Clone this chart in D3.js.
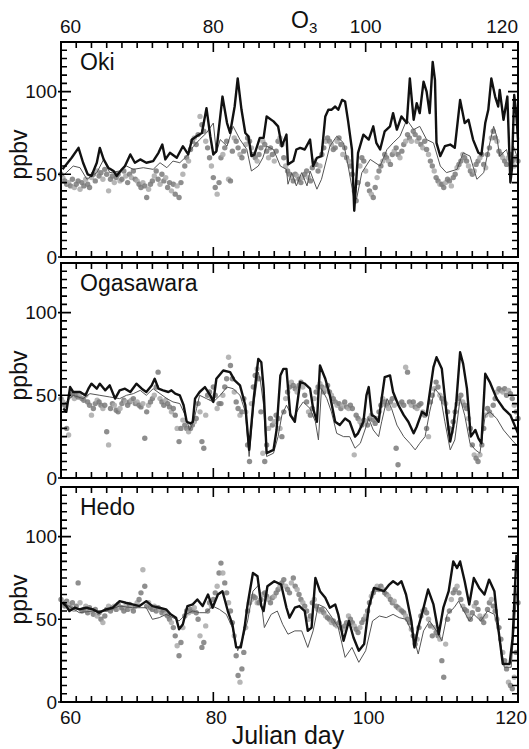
<!DOCTYPE html>
<html>
<head>
<meta charset="utf-8">
<script src="https://cdn.jsdelivr.net/npm/d3@7"></script>
<style>
  body { margin: 0; background: #fff; }
  text { fill: #111; }
</style>
</head>
<body>
<div id="chart"></div>
<script>
// ---- data ----
const stations = ["Oki", "Ogasawara", "Hedo"];
const xLabels = [60, 80, 100, 120];
const yLabels = [0, 50, 100];

// thick black line: [julian day, ppbv]
const okiThick = [[60.2,53],[60.7,56],[61.4,60],[62.3,66],[62.9,57],[63.5,50],[64,49],[64.7,57],[65.1,66],[65.6,59],[66.2,54],[66.9,52],[67.3,49],[68,53],[68.4,55],[69.1,62],[69.7,57],[70.4,59],[71.2,57],[72.1,58],[72.8,63],[73.3,68],[73.7,59],[74.3,63],[75.2,60],[76,67],[76.7,62],[77.2,71],[77.8,73],[78.5,75],[79.1,90],[79.6,73],[80,62],[80.4,64],[81.2,97],[81.8,81],[82.2,75],[82.8,91],[83.2,108],[83.7,89],[84.2,75],[84.6,73],[85,61],[85.4,62],[86.1,72],[86.6,72],[87,85],[87.9,82],[88.5,79],[89,67],[89.6,74],[89.8,56],[90.5,58],[90.9,65],[91.4,66],[92,65],[92.7,71],[93.1,55],[93.6,60],[94.2,61],[94.7,85],[95.1,89],[95.5,89],[96,91],[96.4,89],[96.9,95],[97.3,94],[97.7,82],[98.2,65],[98.5,28],[99,63],[99.7,74],[100.4,71],[101,79],[101.4,69],[101.9,65],[102.5,76],[103.2,79],[103.6,87],[104.1,77],[104.7,85],[105.4,81],[105.8,108],[106.3,83],[106.7,93],[107.1,87],[107.6,106],[108,100],[108.4,87],[108.8,118],[109.1,107],[109.3,69],[109.8,61],[110.4,67],[111.1,68],[111.7,66],[112.4,95],[113,81],[113.5,83],[114.1,71],[114.8,63],[115.2,62],[115.7,81],[116.1,89],[116.5,108],[117,97],[117.4,91],[117.6,101],[118.1,83],[118.6,97],[119,45],[119.2,53],[119.5,98],[119.8,85],[120,71]];
const ogaThick = [[60.3,42],[60.7,40],[61.2,55],[61.6,52],[62.5,52],[63.2,50],[63.6,54],[64,57],[64.7,54],[65.1,57],[65.8,53],[66.4,56],[67.1,48],[67.7,53],[68.4,54],[69.1,52],[69.9,57],[70.6,54],[71.2,52],[71.9,56],[72.3,60],[72.8,54],[73.4,53],[74.1,52],[74.5,53],[75,51],[75.6,50],[76.1,44],[76.5,34],[77,33],[77.3,34],[77.6,48],[78.2,52],[78.9,55],[79.6,50],[80,46],[80.4,60],[81.3,65],[82.2,64],[82.8,59],[83.5,56],[84.2,44],[84.7,17],[85.3,48],[85.9,72],[86.3,70],[86.6,54],[87,15],[87.9,17],[88.3,29],[88.8,62],[89.2,66],[89.6,66],[90.1,38],[90.7,34],[91.4,58],[92,57],[92.7,54],[93.1,42],[93.6,34],[94,68],[94.7,60],[95.3,50],[96,34],[96.6,32],[97.3,36],[97.9,34],[98.6,25],[99,27],[99.7,34],[100.1,50],[100.4,55],[100.8,38],[101.2,37],[101.7,34],[102.1,48],[102.5,61],[103.2,62],[103.6,52],[104.3,44],[105,38],[105.6,34],[106.3,27],[106.7,31],[107.4,40],[108,38],[108.4,51],[108.9,67],[109.3,73],[110,66],[110.6,40],[111.1,22],[111.5,31],[111.9,46],[112.4,76],[112.8,69],[113.3,54],[113.8,25],[114.4,29],[114.8,24],[115.2,21],[115.7,63],[116.3,58],[117.2,48],[118.1,42],[119,38],[120,27]];
const hedoThick = [[60.2,60],[60.7,58],[61.1,55],[61.8,57],[62.4,56],[63.3,57],[64.2,56],[65,54],[65.9,56],[66.8,57],[67.7,61],[68.5,60],[69.4,59],[70.3,58],[71.2,61],[72,58],[72.9,57],[73.8,56],[74.4,53],[75.1,51],[75.5,44],[76,47],[76.6,58],[77.3,59],[77.9,62],[78.6,58],[79.3,65],[79.9,57],[80.6,65],[81.2,67],[81.9,55],[82.5,47],[83,33],[83.6,33],[84.1,45],[84.5,59],[85.2,78],[85.8,76],[86.3,58],[86.6,55],[87.1,70],[88,73],[88.9,71],[89.6,57],[90,51],[90.7,57],[91.3,58],[92,55],[92.4,43],[92.9,45],[93.4,75],[94,67],[94.7,63],[95.3,57],[96,59],[96.4,53],[97.1,37],[97.8,49],[98.4,39],[99.1,31],[99.8,35],[100.4,57],[101.1,69],[101.8,68],[102.4,67],[103.1,71],[103.6,73],[104.2,71],[104.7,73],[105.3,65],[106,49],[106.4,33],[106.9,45],[107.6,57],[108.2,68],[108.9,59],[109.6,41],[110.2,57],[110.9,67],[111.5,85],[112,81],[112.4,85],[113,73],[113.6,59],[114.2,75],[114.9,69],[115.6,65],[116.2,74],[116.9,67],[117.4,45],[118,23],[118.9,23],[119.3,39],[119.8,89]];

// thin grey line: [julian day, ppbv]
const okiThin = [[60.2,49],[60.7,51],[61.6,55],[62.5,54],[63.4,47],[64.7,51],[65.6,59],[66.4,51],[67.7,52],[68.6,55],[69.5,53],[70.8,54],[72.1,53],[73,57],[73.9,54],[74.7,58],[75.6,57],[76.5,61],[77.4,67],[78.2,71],[79.1,75],[80,81],[80.4,63],[80.9,71],[81.8,67],[82.6,79],[83.5,71],[84.4,65],[85,52],[85.9,55],[86.5,60],[87,67],[87.9,65],[88.8,55],[89.6,53],[89.8,44],[90.3,51],[90.9,43],[91.6,51],[92.3,43],[92.7,52],[93.6,41],[94.2,47],[95.3,67],[96.2,73],[97.1,69],[97.7,55],[98.4,37],[98.8,35],[99.5,51],[100.6,59],[101.9,55],[102.8,65],[103.6,69],[104.5,73],[105.4,83],[106.3,77],[107.1,79],[108,71],[108.9,69],[109.8,55],[110.6,51],[112,53],[112.8,63],[113.7,61],[114.6,47],[115.5,51],[116.3,69],[116.8,79],[117.2,73],[117.6,61],[118.5,65],[119,55],[119.4,67],[120,59]];
const ogaThin = [[60.3,44],[60.7,46],[61.6,50],[62.9,48],[63.8,51],[65.1,50],[66.4,49],[67.7,48],[68.6,50],[69.5,51],[70.4,53],[71.2,50],[72.1,54],[73,51],[73.9,48],[74.7,46],[75.6,45],[76.3,38],[76.9,29],[77.4,34],[77.8,42],[78.2,50],[79.1,48],[80,46],[80.9,50],[81.8,55],[82.6,54],[83.5,50],[84.2,40],[84.7,13],[85.3,44],[85.9,64],[86.2,58],[86.6,44],[87,13],[87.9,15],[88.5,25],[89,38],[89.6,44],[90.5,36],[91.2,42],[91.8,46],[92.7,42],[93.4,34],[93.8,23],[94.2,54],[94.9,48],[95.5,40],[96.2,27],[97.1,25],[97.9,25],[98.6,18],[99.3,21],[99.9,29],[100.4,36],[101,29],[101.7,25],[102.1,34],[102.8,48],[103.4,42],[104.1,32],[105,25],[105.8,21],[106.5,17],[107.1,21],[107.8,25],[108.4,40],[109.1,54],[109.8,50],[110.4,34],[111.1,17],[111.7,23],[112.4,48],[113,38],[113.7,21],[114.4,17],[115,15],[115.7,38],[116.3,40],[117.2,36],[118.1,29],[119.2,23],[120,19]];
const hedoThin = [[60.2,61],[60.7,59],[62.4,54],[64.2,55],[65.9,55],[67.7,58],[69.4,57],[71.2,57],[72,50],[72.9,51],[73.8,53],[74.7,51],[75.5,49],[76.4,53],[77.3,55],[78.2,54],[79,54],[79.9,58],[80.8,56],[81.7,53],[82.5,45],[83.2,31],[83.9,39],[84.5,49],[85.2,67],[86,71],[86.7,45],[87.6,53],[88.4,55],[89.1,47],[89.8,41],[90.7,43],[91.6,43],[92.4,33],[93.1,43],[93.8,59],[94.7,57],[95.6,51],[96.4,45],[97.3,27],[98.2,33],[99.1,24],[100,31],[100.9,49],[101.8,52],[102.7,51],[103.6,53],[104.4,51],[105.3,50],[106.2,41],[106.9,29],[107.6,43],[108.4,49],[109.3,43],[110,37],[110.7,53],[111.6,57],[112.2,61],[112.9,55],[113.6,49],[114.2,53],[115.1,49],[116,55],[116.9,53],[117.6,39],[118.2,21],[119.1,21],[120,77]];

// observed values (dots), every 0.25 day from day 60
const dotStep = 0.25;
const okiDots = [
  50,48,46,44, 45,43,47,42, 44,46,41,45, 43,47,44,42, 48,50,46,52, 49,51,47,53,
  50,40,47,49, 45,48,50,46, 47,52,49,45, 50,48,52,47, 46,44,42,45, 43,36,41,44,
  46,49,52,47, 44,50,46,48, 42,45,40,44, 38,43,36,45, 50,55,60,58, 65,70,72,68,
  74,85,80,76, 70,66,60,55, 48,42,38,45, 60,62,66,70, 47,46,64,72, 70,66,62,60,
  64,68,72,70, 66,62,60,58, 62,66,70,68, 64,60,66,62, 58,64,70,72, 68,60,55,52,
  50,48,46,50, 49,47,45,48, 50,52,48,46, 54,58,56,52, 55,62,66,70, 72,70,68,65,
  66,70,72,68, 62,66,60,58, 55,50,40,34, 45,55,60,58, 52,44,40,38, 36,42,48,52,
  55,58,62,60, 58,56,62,64, 66,62,60,64, 68,70,74,72, 70,76,74,70, 72,68,66,70,
  65,62,58,55, 52,48,46,44, 44,42,45,47, 46,43,48,50, 54,56,58,62, 60,58,55,52,
  50,52,56,58, 60,62,56,54, 62,66,72,76, 72,70,64,62, 60,58,56,60, 62,58,55,60,
  58];
const ogaDots = [
  48,46,44,30, 26,50,51,48, 50,49,51,48, 47,50,46,44, 38,42,45,47, 46,44,42,44,
  28,20,42,45, 44,41,40,42, 45,47,46,44, 46,47,48,45, 46,44,43,45, 24,40,44,46,
  48,50,55,64, 48,46,44,47, 45,43,40,42, 38,30,22,30, 35,32,30,28, 30,32,34,36,
  45,40,22,18, 38,50,52,48, 55,50,42,45, 45,50,55,60, 73,68,60,52, 46,42,38,40,
  48,40,20,10, 45,55,62,66, 60,40,15,10, 20,30,36,32, 34,38,36,30, 25,40,48,52,
  55,58,56,54, 52,56,58,55, 50,46,40,38, 42,48,52,55, 57,55,52,54, 56,52,50,48,
  46,44,45,42, 44,46,43,42, 44,42,14,38, 36,34,32,35, 34,32,36,38, 35,33,36,40,
  44,48,46,44, 42,46,48,44, 18,8,45,46, 44,67,64,46, 44,46,43,42, 44,45,40,38,
  30,25,46,50, 54,58,55,50, 48,46,45,40, 30,28,34,40, 45,48,50,46, 44,42,36,30,
  20,14,12,10, 14,20,30,38, 42,40,38,44, 48,52,54,53, 52,54,50,53, 51,48,44,40,
  36];
const hedoDots = [
  62,60,58,61, 59,57,60,56, 58,72,60,55, 56,58,54,57, 55,53,56,52, 54,50,48,52,
  56,58,55,57, 58,56,59,57, 57,55,58,56, 59,57,55,58, 60,62,66,80, 70,58,60,57,
  56,58,55,57, 56,54,55,53, 52,50,48,45, 40,34,28,36, 45,52,55,54, 56,55,57,54,
  50,40,33,36, 46,55,60,58, 62,66,70,78, 84,78,72,66, 60,55,48,40, 28,16,12,20,
  30,45,55,60, 62,64,63,60, 60,62,65,66, 64,62,60,63, 64,66,68,70, 72,74,70,68,
  66,72,75,70, 68,65,62,60, 58,55,50,52, 60,62,58,56, 55,56,54,52, 51,50,48,49,
  47,46,48,45, 44,46,48,52, 50,48,46,44, 42,45,48,50, 52,55,60,64, 66,68,70,68,
  70,68,66,65, 64,62,60,61, 58,57,56,55, 54,52,50,48, 44,40,35,38, 45,52,55,56,
  54,50,46,40, 45,42,40,38, 25,15,35,50, 55,62,66,68, 70,66,62,58, 56,55,52,50,
  54,58,60,56, 52,50,48,52, 56,60,62,58, 55,50,45,38, 30,25,20,12, 10,8,15,30,
  60];

const thickSeries = [okiThick, ogaThick, hedoThick];
const thinSeries = [okiThin, ogaThin, hedoThin];
const dotSeries = [okiDots, ogaDots, hedoDots];

// ---- layout ----
const W = 529, H = 749;
const plotLeft = 61, plotRight = 518;
const panelTops = [42, 263, 487];
const panelH = 215;
const tickFont = '"Liberation Sans Narrow", "Arial Narrow", "Liberation Sans", Arial, sans-serif';
const textFont = '"Liberation Sans", Arial, Helvetica, sans-serif';

const svg = d3.select('#chart').append('svg')
  .attr('width', W).attr('height', H)
  .style('font-family', textFont);

const x = d3.scaleLinear().domain([60, 120]).range([plotLeft, plotRight]);
const xMinor = d3.range(60, 121, 2);
const yMinor = d3.range(0, 131, 5);
const xMajor = [80, 100];

stations.forEach((name, i) => {
  const pTop = panelTops[i];
  const pBottom = pTop + panelH;
  const y = d3.scaleLinear().domain([0, 130]).range([pBottom, pTop]);
  const g = svg.append('g');

  // dots (observations)
  g.append('g').selectAll('circle')
    .data(dotSeries[i])
    .join('circle')
    .attr('cx', (d, k) => x(60 + k * dotStep))
    .attr('cy', d => y(d))
    .attr('r', 2.7)
    .attr('fill', (d, k) => k % 3 === 1 ? '#a9a9a9' : '#7a7a7a')
    .attr('fill-opacity', 0.85);

  // thin line
  g.append('path')
    .datum(thinSeries[i])
    .attr('fill', 'none')
    .attr('stroke', '#555')
    .attr('stroke-width', 1)
    .attr('d', d3.line().x(d => x(d[0])).y(d => y(d[1])));

  // thick line
  g.append('path')
    .datum(thickSeries[i])
    .attr('fill', 'none')
    .attr('stroke', '#111')
    .attr('stroke-width', 2.4)
    .attr('stroke-linejoin', 'round')
    .attr('d', d3.line().x(d => x(d[0])).y(d => y(d[1])));

  // frame
  g.append('rect')
    .attr('x', plotLeft).attr('y', pTop)
    .attr('width', plotRight - plotLeft).attr('height', panelH)
    .attr('fill', 'none').attr('stroke', '#000').attr('stroke-width', 2);

  // inward ticks on all four sides
  const xLen = t => xMajor.includes(t) ? 10 : 6;
  const yLen = t => yLabels.includes(t) ? 10 : 6;
  let tickPath = '';
  xMinor.forEach(t => {
    tickPath += `M${x(t)},${pTop}V${pTop + xLen(t)}`;
    tickPath += `M${x(t)},${pBottom}V${pBottom - xLen(t)}`;
  });
  yMinor.forEach(t => {
    tickPath += `M${yLabels.includes(t) ? plotLeft - 3 : plotLeft},${y(t)}H${plotLeft + yLen(t)}`;
    tickPath += `M${plotRight},${y(t)}H${plotRight - yLen(t)}`;
  });
  g.append('path')
    .attr('d', tickPath)
    .attr('fill', 'none')
    .attr('stroke', '#000')
    .attr('stroke-width', 1.6);

  // y tick labels
  g.selectAll('.ylab').data(yLabels).join('text')
    .attr('class', 'ylab')
    .attr('x', plotLeft - 4)
    .attr('y', d => y(d))
    .attr('dy', '0.36em')
    .attr('text-anchor', 'end')
    .style('font-family', tickFont)
    .style('font-size', '19px')
    .text(d => d);

  // ppbv
  g.append('text')
    .attr('transform', `translate(27,${pTop + panelH / 2 + 5}) rotate(-90)`)
    .attr('text-anchor', 'middle')
    .style('font-size', '23px')
    .text('ppbv');

  // station name
  g.append('text')
    .attr('x', 80)
    .attr('y', pTop + 28)
    .style('font-size', '23px')
    .text(name);
});

// top and bottom day labels
svg.selectAll('.xtop').data(xLabels).join('text')
  .attr('class', 'xtop')
  .attr('x', d => d === 60 ? x(d) - 1 : x(d))
  .attr('y', 33)
  .attr('text-anchor', d => d === 60 ? 'start' : (d === 120 ? 'end' : 'middle'))
  .style('font-family', tickFont)
  .style('font-size', '19px')
  .text(d => d);
svg.selectAll('.xbot').data(xLabels).join('text')
  .attr('class', 'xbot')
  .attr('x', d => d === 60 ? x(d) - 1 : (d === 120 ? 527 : x(d) + 3))
  .attr('y', 724)
  .attr('text-anchor', d => d === 60 ? 'start' : (d === 120 ? 'end' : 'middle'))
  .style('font-family', tickFont)
  .style('font-size', '19px')
  .text(d => d);

// title O3
const title = svg.append('text')
  .attr('x', 291)
  .attr('y', 28)
  .style('font-size', '23px');
title.append('tspan').text('O');
title.append('tspan').attr('dy', 5).style('font-size', '15px').text('3');

// x axis title
svg.append('text')
  .attr('x', 288)
  .attr('y', 744)
  .attr('text-anchor', 'middle')
  .style('font-size', '25px')
  .text('Julian day');
</script>
</body>
</html>
